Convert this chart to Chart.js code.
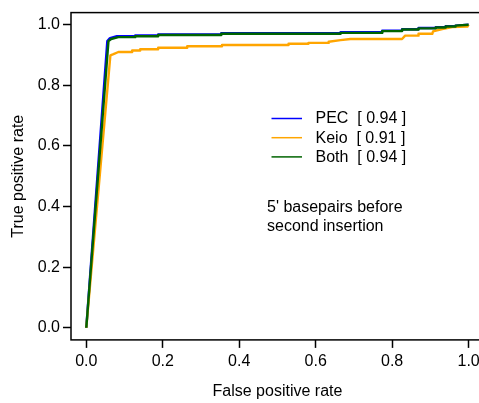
<!DOCTYPE html>
<html>
<head>
<meta charset="utf-8">
<script src="https://cdn.jsdelivr.net/npm/chart.js@4/dist/chart.umd.min.js"></script>
<style>
  html, body { margin: 0; padding: 0; background: #fff; overflow: hidden; }
  #wrap { width: 479px; height: 403px; overflow: hidden; }
</style>
</head>
<body>
<div id="wrap"><canvas id="roc" width="490" height="403"></canvas></div>
<script>
// ROC curves
const fprPEC = [0, 0.055, 0.062, 0.080, 0.128, 0.128, 0.188, 0.188, 0.353, 0.353, 0.665, 0.665, 0.774, 0.774, 0.826, 0.826, 0.869, 0.869, 0.914, 0.914, 0.940, 0.940, 0.966, 0.966, 1];
const tprPEC = [0, 0.946, 0.956, 0.962, 0.962, 0.965, 0.965, 0.968, 0.968, 0.972, 0.972, 0.975, 0.975, 0.980, 0.980, 0.985, 0.985, 0.989, 0.989, 0.992, 0.992, 0.995, 0.995, 0.997, 1];

const fprKeio = [0, 0.063, 0.071, 0.084, 0.120, 0.120, 0.141, 0.141, 0.188, 0.188, 0.264, 0.264, 0.355, 0.355, 0.529, 0.529, 0.581, 0.581, 0.634, 0.634, 0.665, 0.691, 0.826, 0.834, 0.869, 0.869, 0.905, 0.907, 0.931, 0.957, 0.997, 1];
const tprKeio = [0, 0.899, 0.903, 0.910, 0.910, 0.915, 0.915, 0.919, 0.919, 0.924, 0.924, 0.929, 0.929, 0.933, 0.933, 0.937, 0.937, 0.940, 0.940, 0.944, 0.949, 0.953, 0.953, 0.964, 0.964, 0.970, 0.970, 0.978, 0.986, 0.992, 0.994, 1];

const fprBoth = [0, 0.058, 0.065, 0.084, 0.128, 0.128, 0.188, 0.188, 0.353, 0.353, 0.665, 0.665, 0.774, 0.774, 0.826, 0.826, 0.869, 0.869, 0.914, 0.914, 0.940, 0.940, 0.966, 0.966, 1];
const tprBoth = [0, 0.946, 0.953, 0.959, 0.959, 0.962, 0.962, 0.966, 0.966, 0.970, 0.970, 0.973, 0.973, 0.979, 0.979, 0.984, 0.984, 0.988, 0.988, 0.991, 0.991, 0.994, 0.994, 0.997, 1];

const seriesNames = ['PEC  [ 0.94 ]', 'Keio  [ 0.91 ]', 'Both  [ 0.94 ]'];
const seriesColors = ['#0000ff', '#ffa500', '#006400'];
const tickValues = [0, 0.2, 0.4, 0.6, 0.8, 1.0];
const noteLines = ["5' basepairs before", 'second insertion'];

const toPoints = (xs, ys) => xs.map((x, i) => ({ x: x, y: ys[i] }));

Chart.defaults.font.family = "'Liberation Sans', Arial, sans-serif";
Chart.defaults.font.size = 16;
Chart.defaults.color = '#000';

// box around the plot, legend and note drawn inside the plot
const extras = {
  id: 'extras',
  beforeDatasetsDraw(chart) {
    const { ctx, chartArea: a } = chart;
    ctx.save();
    ctx.strokeStyle = '#000';
    ctx.lineWidth = 1.5;
    ctx.strokeRect(a.left, a.top, a.right - a.left, a.bottom - a.top);
    ctx.restore();
  },
  afterDraw(chart) {
    const ctx = chart.ctx;
    ctx.save();
    ctx.font = "16px 'Liberation Sans', Arial, sans-serif";
    ctx.textBaseline = 'middle';
    ctx.fillStyle = '#000';
    seriesNames.forEach((name, i) => {
      const y = 118.5 + i * 19.2;
      ctx.strokeStyle = seriesColors[i];
      ctx.lineWidth = 1.5;
      ctx.beginPath();
      ctx.moveTo(271.5, y);
      ctx.lineTo(302, y);
      ctx.stroke();
      ctx.fillText(name, 315.5, y + 0.5);
    });
    noteLines.forEach((t, i) => ctx.fillText(t, 267, 208 + i * 19));
    ctx.restore();
  }
};

new Chart(document.getElementById('roc').getContext('2d'), {
  type: 'line',
  data: {
    datasets: [
      { label: seriesNames[0], data: toPoints(fprPEC, tprPEC), borderColor: seriesColors[0], order: 3 },
      { label: seriesNames[1], data: toPoints(fprKeio, tprKeio), borderColor: seriesColors[1], order: 2 },
      { label: seriesNames[2], data: toPoints(fprBoth, tprBoth), borderColor: seriesColors[2], order: 1 },
    ],
  },
  options: {
    responsive: false,
    animation: false,
    layout: { padding: { top: 10.5, right: 6.1, bottom: 0, left: 0 } },
    elements: {
      point: { radius: 0 },
      line: { borderWidth: 2.4, tension: 0, borderJoinStyle: 'round' },
    },
    plugins: { legend: { display: false }, tooltip: { enabled: false } },
    scales: {
      x: {
        type: 'linear',
        min: -0.04,
        max: 1.04,
        afterFit: (s) => { s.height = 63.1; },
        afterBuildTicks: (s) => { s.ticks = tickValues.map(v => ({ value: v })); },
        ticks: { padding: 4, callback: (v) => v.toFixed(1), maxRotation: 0 },
        grid: { drawOnChartArea: false, tickLength: 8, tickColor: '#000', tickWidth: 1.5 },
        border: { display: false },
        title: { display: true, text: 'False positive rate', padding: { top: 0, bottom: 2 } },
      },
      y: {
        type: 'linear',
        min: -0.04,
        max: 1.04,
        afterFit: (s) => { s.width = 71; },
        afterBuildTicks: (s) => { s.ticks = tickValues.map(v => ({ value: v })); },
        ticks: { padding: 3, callback: (v) => v.toFixed(1) },
        grid: { drawOnChartArea: false, tickLength: 8, tickColor: '#000', tickWidth: 1.5 },
        border: { display: false },
        title: { display: true, text: 'True positive rate', padding: { top: 9, bottom: 0 } },
      },
    },
  },
  plugins: [extras],
});
</script>
</body>
</html>
